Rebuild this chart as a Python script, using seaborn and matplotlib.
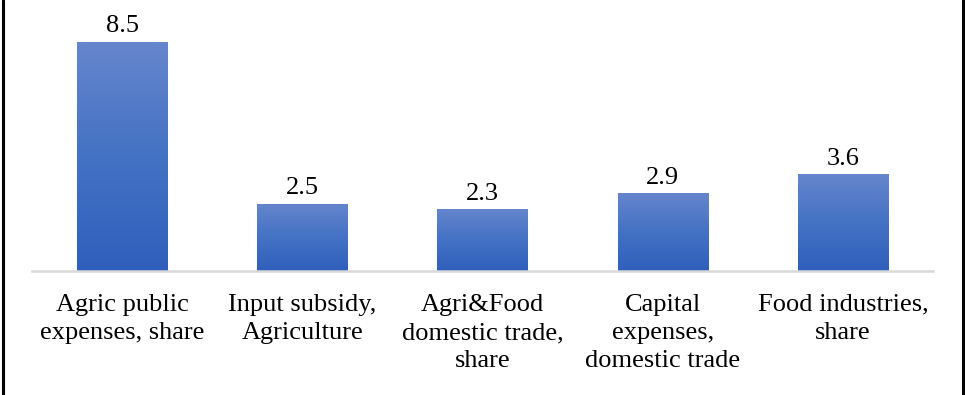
import numpy as np
import pandas as pd
import matplotlib
matplotlib.use("Agg")
import matplotlib.pyplot as plt
from matplotlib.colors import LinearSegmentedColormap
from matplotlib.lines import Line2D
import seaborn as sns

categories = [
    "Agric public\nexpenses, share",
    "Input subsidy,\nAgriculture",
    "Agri&Food\ndomestic trade,\nshare",
    "Capital\nexpenses,\ndomestic trade",
    "Food industries,\nshare",
]
values = [8.5, 2.5, 2.3, 2.9, 3.6]

df = pd.DataFrame({"category": categories, "value": values})

sns.set_style("white")
plt.rcParams["font.family"] = ["Liberation Serif", "DejaVu Serif"]

fig = plt.figure(figsize=(9.65, 3.95), dpi=100)
ax = fig.add_axes([32 / 965, 124 / 395, 901 / 965, 270 / 395])

sns.barplot(data=df, x="category", y="value", ax=ax, width=0.5,
            color="#4472c4", saturation=1)

# vertical gradient fill for each bar
grad = LinearSegmentedColormap.from_list("bar_grad", ["#2f5fbc", "#4472c4", "#6686cd"])
gradient = np.linspace(0, 1, 256).reshape(-1, 1)
for patch in ax.patches:
    x0, y0 = patch.get_x(), patch.get_y()
    w, h = patch.get_width(), patch.get_height()
    patch.set_facecolor("none")
    patch.set_edgecolor("none")
    im = ax.imshow(gradient, cmap=grad, aspect="auto", origin="lower",
                   extent=[x0, x0 + w, y0, y0 + h], zorder=2)
    im.set_clip_path(patch)

for container in ax.containers:
    ax.bar_label(container, labels=[f"{v:.1f}" for v in values],
                 padding=3, fontsize=19, color="black")

ax.set_xlim(-0.5, len(categories) - 0.5)
ax.set_ylim(0, 10)
ax.set_xlabel("")
ax.set_ylabel("")
ax.set_yticks([])
ax.tick_params(axis="x", length=0, pad=16.5, labelsize=19, colors="black")
for lbl in ax.get_xticklabels():
    lbl.set_linespacing(1.37)

for side in ["top", "left", "right"]:
    ax.spines[side].set_visible(False)
ax.spines["bottom"].set_color("#d9d9d9")
ax.spines["bottom"].set_linewidth(1.8)

# outer frame edges
fig.add_artist(Line2D([2.5 / 965, 2.5 / 965], [0, 1], color="black", lw=2.2,
                      transform=fig.transFigure))
fig.add_artist(Line2D([963 / 965, 963 / 965], [0, 1], color="black", lw=2.2,
                      transform=fig.transFigure))

fig.savefig("out.png", dpi=100, facecolor="white")
